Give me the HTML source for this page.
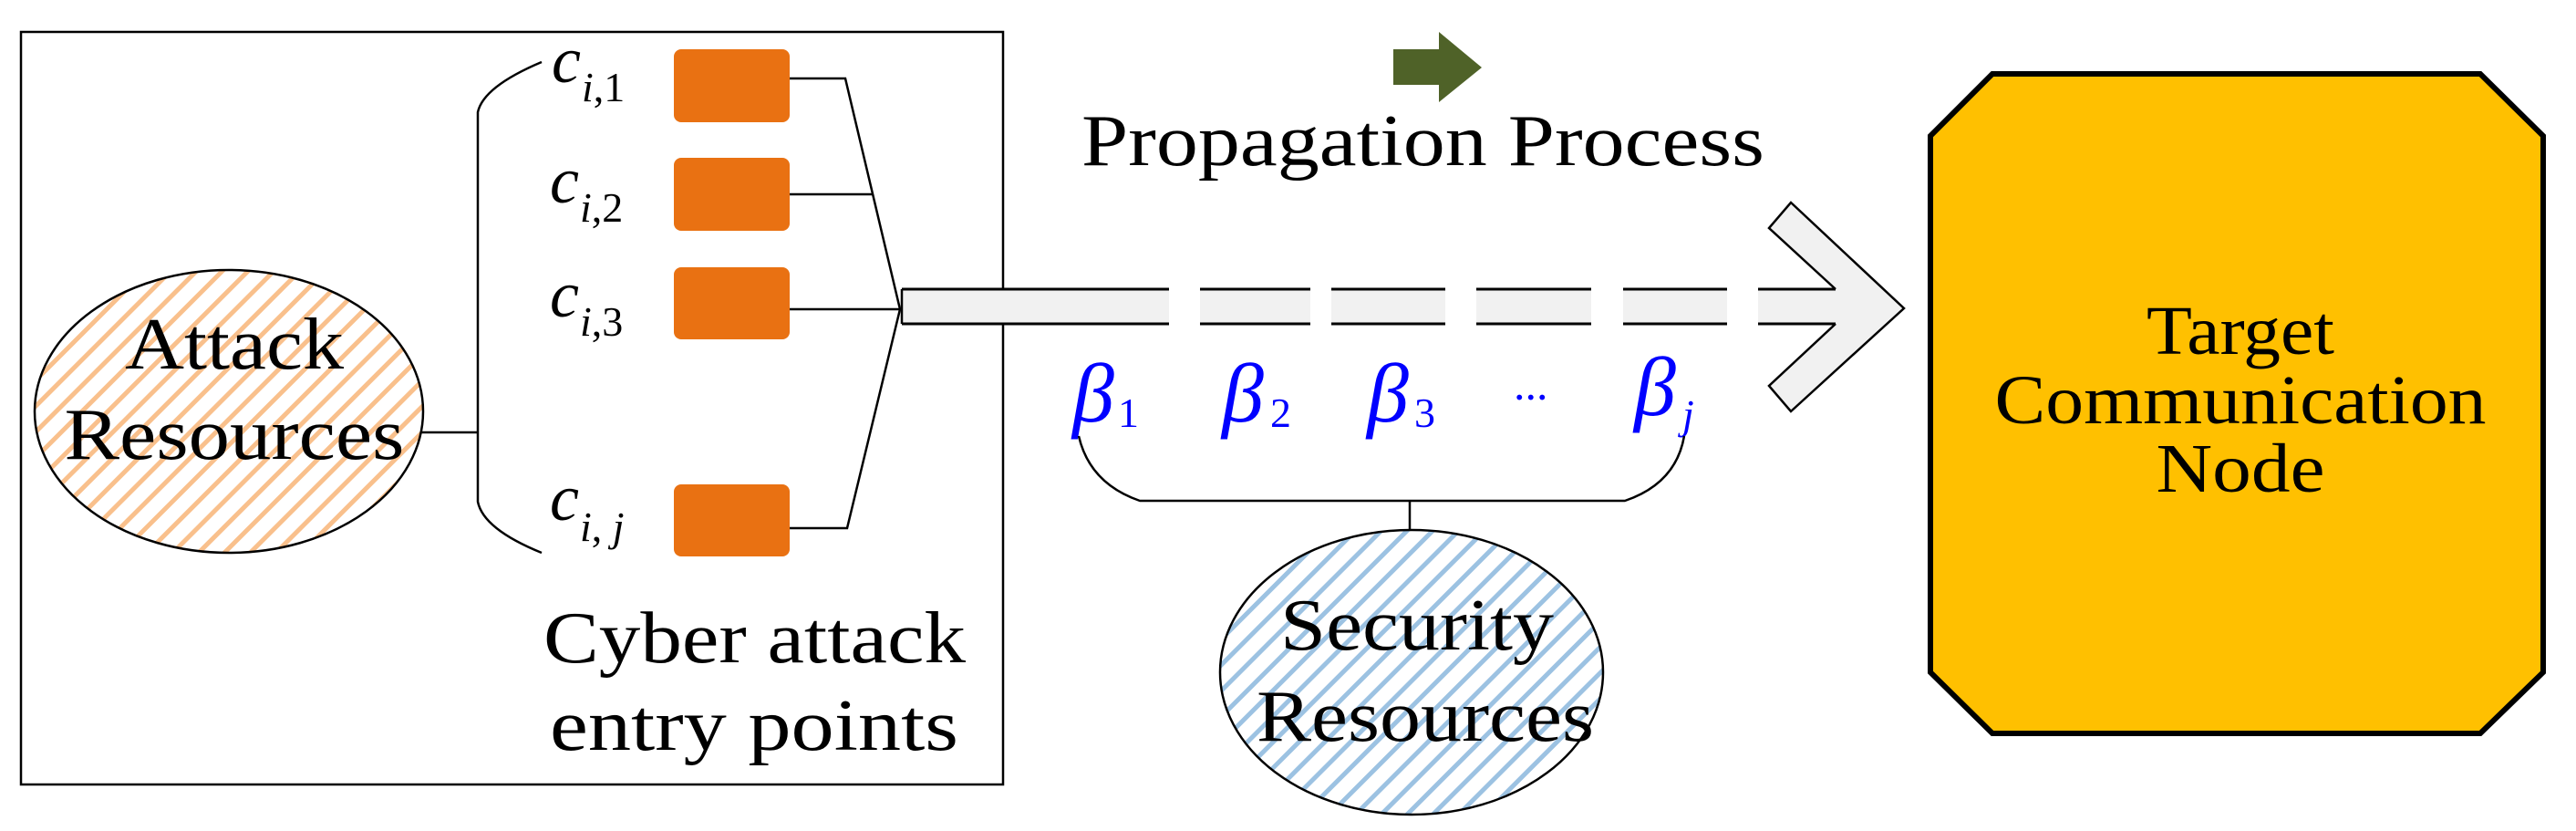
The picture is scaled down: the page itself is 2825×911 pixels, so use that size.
<!DOCTYPE html>
<html><head><meta charset="utf-8"><style>
html,body{margin:0;padding:0;background:#fff;width:2825px;height:911px;overflow:hidden}
svg{display:block;font-family:"Liberation Serif","Times New Roman",serif}
</style></head><body>
<svg width="2825" height="911" viewBox="0 0 2825 911" xmlns="http://www.w3.org/2000/svg" font-family="Liberation Serif, serif">
<defs>
<pattern id="po" patternUnits="userSpaceOnUse" width="20" height="20" patternTransform="rotate(45)">
<rect width="20" height="20" fill="#fff"/><rect x="0" y="0" width="5" height="20" fill="#f9c08c"/>
</pattern>
<pattern id="pb" patternUnits="userSpaceOnUse" width="20" height="20" patternTransform="rotate(45)">
<rect width="20" height="20" fill="#fff"/><rect x="0" y="0" width="5" height="20" fill="#9cc2e2"/>
</pattern>
</defs>
<rect x="23" y="35" width="1077" height="825" fill="none" stroke="#000" stroke-width="2.5"/>
<ellipse cx="251" cy="451" rx="213" ry="155" fill="url(#po)" stroke="#000" stroke-width="2.5"/>
<text x="257" y="404" font-size="80" text-anchor="middle" textLength="240" lengthAdjust="spacingAndGlyphs">Attack</text>
<text x="257" y="503" font-size="80" text-anchor="middle" textLength="373" lengthAdjust="spacingAndGlyphs">Resources</text>
<line x1="462" y1="474" x2="524" y2="474" stroke="#000" stroke-width="2.5"/>
<path d="M594 68 Q530 95 524 123 L524 550 Q530 580 594 606" fill="none" stroke="#000" stroke-width="2.5"/>
<g font-style="italic">
<text x="605" y="90" font-size="72">c</text><text x="638" y="111" font-size="46">i<tspan font-style="normal">,1</tspan></text>
<text x="603" y="222" font-size="72">c</text><text x="636" y="243" font-size="46">i<tspan font-style="normal">,2</tspan></text>
<text x="603" y="347" font-size="72">c</text><text x="636" y="368" font-size="46">i<tspan font-style="normal">,3</tspan></text>
<text x="603" y="570" font-size="72">c</text><text x="636" y="593" font-size="46">i<tspan font-style="normal">, </tspan>j</text>
</g>
<g fill="#e97112">
<rect x="739" y="54" width="127" height="80" rx="8"/>
<rect x="739" y="173" width="127" height="80" rx="8"/>
<rect x="739" y="293" width="127" height="79" rx="8"/>
<rect x="739" y="531" width="127" height="79" rx="8"/>
</g>
<g fill="none" stroke="#000" stroke-width="2.5">
<polyline points="866,86 927,86 987,339 929,579 866,579"/>
<line x1="866" y1="213" x2="956" y2="213"/>
<line x1="866" y1="339" x2="987" y2="339"/>
</g>
<text x="596" y="726" font-size="80" textLength="463" lengthAdjust="spacingAndGlyphs">Cyber attack</text>
<text x="603" y="822" font-size="80" textLength="448" lengthAdjust="spacingAndGlyphs">entry points</text>
<g fill="#f1f1f1">
<rect x="989" y="317" width="293" height="38"/>
<rect x="1316" y="317" width="121" height="38"/>
<rect x="1460" y="317" width="125" height="38"/>
<rect x="1619" y="317" width="126" height="38"/>
<rect x="1780" y="317" width="114" height="38"/>
<rect x="1928" y="317" width="90" height="38"/>
</g>
<line x1="989" y1="317" x2="989" y2="355" stroke="#000" stroke-width="2.5"/>
<g stroke="#000" stroke-width="3">
<line x1="989" y1="317" x2="1282" y2="317"/><line x1="989" y1="355" x2="1282" y2="355"/>
<line x1="1316" y1="317" x2="1437" y2="317"/><line x1="1316" y1="355" x2="1437" y2="355"/>
<line x1="1460" y1="317" x2="1585" y2="317"/><line x1="1460" y1="355" x2="1585" y2="355"/>
<line x1="1619" y1="317" x2="1745" y2="317"/><line x1="1619" y1="355" x2="1745" y2="355"/>
<line x1="1780" y1="317" x2="1894" y2="317"/><line x1="1780" y1="355" x2="1894" y2="355"/>
<line x1="1928" y1="317" x2="2013" y2="317"/><line x1="1928" y1="355" x2="2013" y2="355"/>
</g>
<path d="M2013 317 L1940 250 L1964 222 L2088 338 L1964 451 L1940 423 L2013 355" fill="#f1f1f1" stroke="#000" stroke-width="2.5"/>
<polygon points="1528,54 1578,54 1578,35 1625,74 1578,112 1578,93 1528,93" fill="#4f6228"/>
<text x="1186" y="181" font-size="80" textLength="749" lengthAdjust="spacingAndGlyphs">Propagation Process</text>
<g fill="#0000ff">
<text x="1176" y="462" font-size="92" font-style="italic">β</text><text x="1226" y="468" font-size="46">1</text>
<text x="1340" y="462" font-size="92" font-style="italic">β</text><text x="1393" y="468" font-size="46">2</text>
<text x="1499" y="462" font-size="92" font-style="italic">β</text><text x="1551" y="468" font-size="46">3</text>
<text x="1660" y="438" font-size="50">...</text>
<text x="1792" y="455" font-size="92" font-style="italic">β</text><text x="1845" y="470" font-size="46" font-style="italic">j</text>
</g>
<path d="M1183 478 Q1195 530 1250 549 L1782 549 Q1838 530 1847 478" fill="none" stroke="#000" stroke-width="2.5"/>
<line x1="1546" y1="549" x2="1546" y2="581" stroke="#000" stroke-width="2.5"/>
<ellipse cx="1548" cy="737" rx="210" ry="156" fill="url(#pb)" stroke="#000" stroke-width="2.5"/>
<text x="1554" y="712" font-size="80" text-anchor="middle" textLength="300" lengthAdjust="spacingAndGlyphs">Security</text>
<text x="1563" y="812" font-size="80" text-anchor="middle" textLength="370" lengthAdjust="spacingAndGlyphs">Resources</text>
<polygon points="2185,81 2720,81 2789,149 2789,737 2720,804 2185,804 2117,737 2117,149" fill="#ffc000" stroke="#000" stroke-width="6"/>
<text x="2457" y="388" font-size="76" text-anchor="middle" textLength="206" lengthAdjust="spacingAndGlyphs">Target</text>
<text x="2457" y="464" font-size="76" text-anchor="middle" textLength="539" lengthAdjust="spacingAndGlyphs">Communication</text>
<text x="2457" y="539" font-size="76" text-anchor="middle" textLength="185" lengthAdjust="spacingAndGlyphs">Node</text>
</svg>
</body></html>
